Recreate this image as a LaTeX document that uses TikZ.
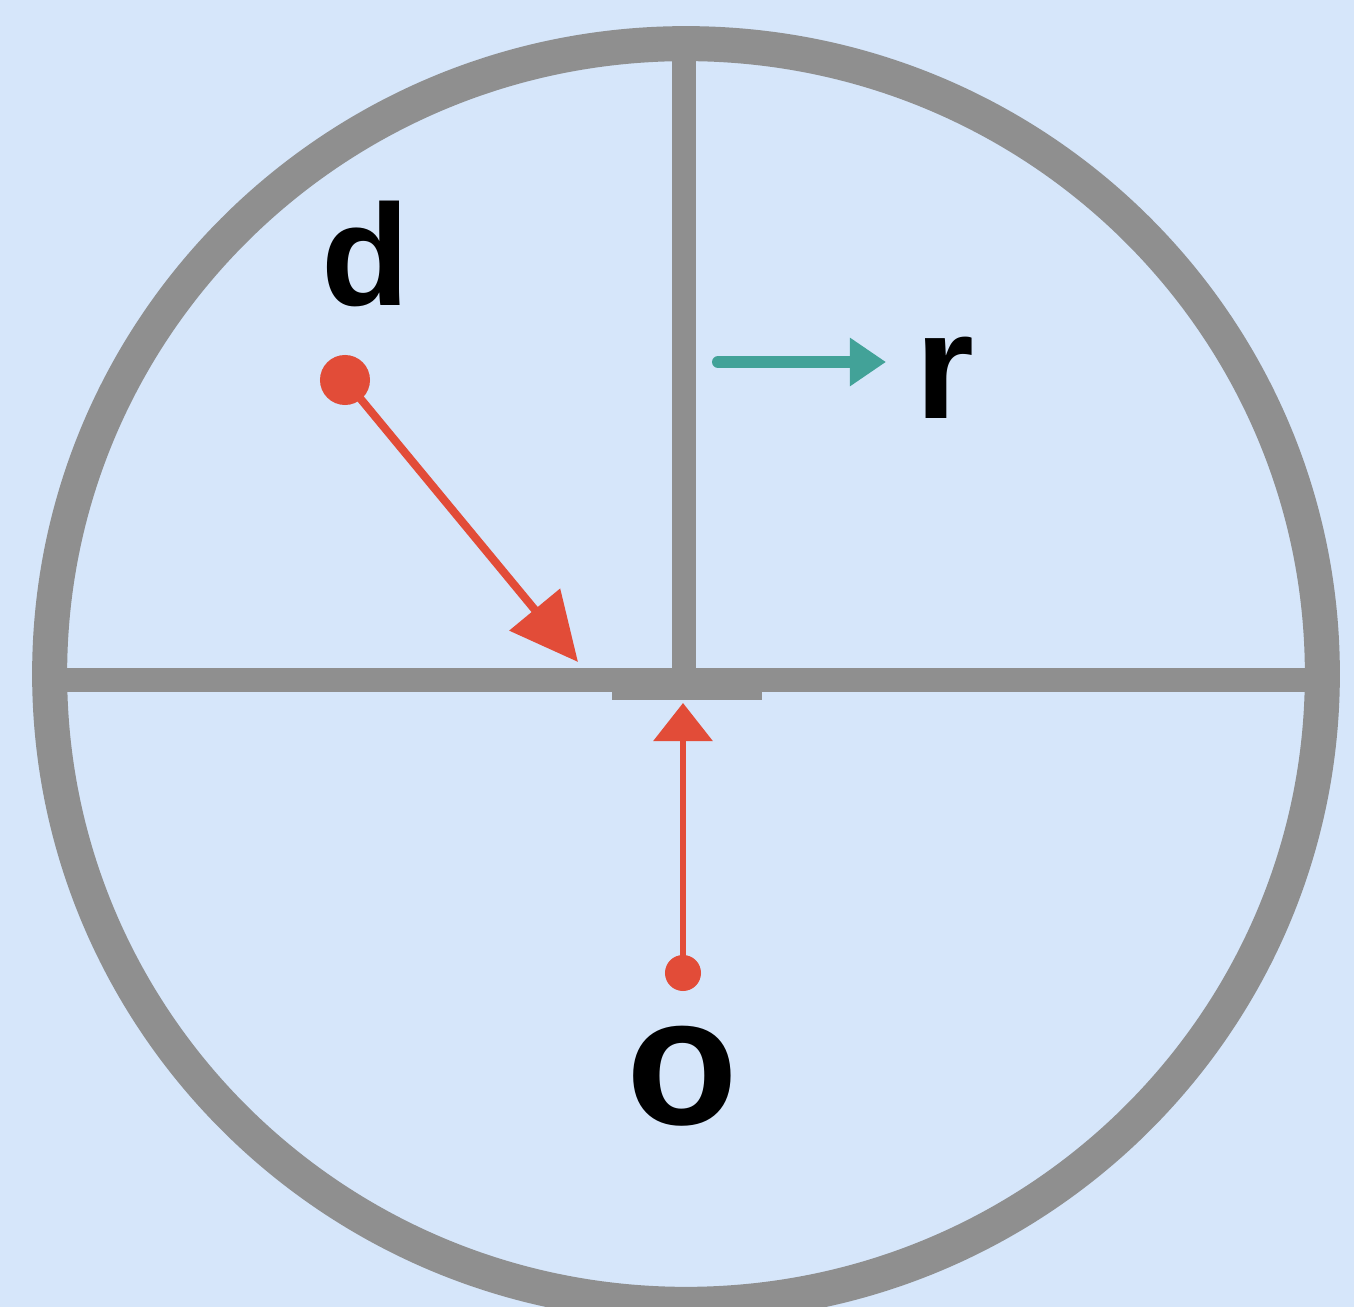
\documentclass[tikz,border=0pt]{standalone}
\usepackage{fontspec}
\setmainfont{Liberation Sans}
\usetikzlibrary{arrows.meta}
\definecolor{bgblue}{RGB}{214,230,250}
\definecolor{ringgray}{RGB}{143,143,143}
\definecolor{arrred}{RGB}{226,76,56}
\definecolor{arrteal}{RGB}{66,162,152}
\tikzset{
  bar/.style={draw=ringgray, line width=0.24cm},
  ring/.style={draw=ringgray, line width=0.35cm},
  dotnode/.style={circle, fill=arrred, inner sep=0pt},
  redarrow/.style={draw=arrred, -{Triangle[length=#1]}},
  lbl/.style={inner sep=0pt, anchor=base, text=black, font=\bfseries}
}
\begin{document}
\begin{tikzpicture}[x=0.01cm, y=-0.01cm]
\fill[bgblue] (0,0) rectangle (1354,1307);
\useasboundingbox (0,0) rectangle (1354,1307);
% crosshair
\coordinate (hl) at (50,680);
\coordinate (hr) at (1322,680);
\coordinate (vt) at (684,44);
\coordinate (vb) at (684,680);
\draw[bar] (hl) -- (hr);
\draw[bar] (vt) -- (vb);
\fill[ringgray] (612,684) rectangle (762,700);
% ring
\draw[ring] (686,674) ellipse [x radius=6.36cm, y radius=6.30cm];
% d arrow
\node[dotnode, minimum size=0.5cm] (ddot) at (345,380) {};
\coordinate (dtip) at (578,662);
\draw[arrred, line width=0.08cm, -{Triangle[length=0.68cm, width=0.64cm]}] (ddot.center) -- (dtip);
% o arrow
\node[dotnode, minimum size=0.36cm] (odot) at (683,973) {};
\coordinate (otip) at (683,703);
\draw[arrred, line width=0.065cm, -{Triangle[length=0.38cm, width=0.58cm]}] (odot.center) -- (otip);
% r arrow
\coordinate (rstart) at (718,362);
\coordinate (rtip) at (886,362);
\draw[arrteal, line width=0.12cm, line cap=round, -{Triangle[length=0.36cm, width=0.46cm]}] (rstart) -- (rtip);
% labels
\node[lbl, font=\fontsize{41}{41}\selectfont\bfseries] (dl) at (366,306) {d};
\node[lbl, font=\fontsize{43}{43}\selectfont\bfseries] (rl) at (945,419) {r};
\node[lbl, font=\fontsize{52}{52}\selectfont\bfseries] (ol) at (682,1125) {o};
\end{tikzpicture}
\end{document}
